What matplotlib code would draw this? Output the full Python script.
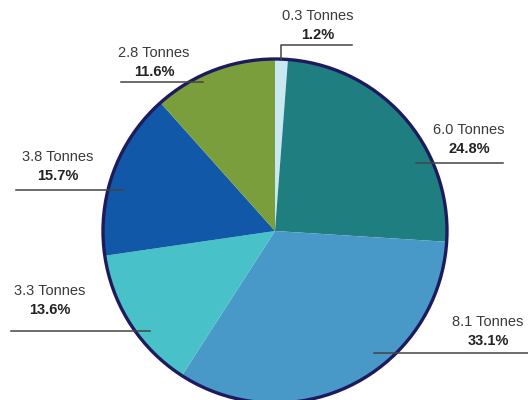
import matplotlib
matplotlib.use("Agg")
import matplotlib.pyplot as plt
from matplotlib.patches import Circle

plt.rcParams['font.family'] = ['Liberation Sans', 'DejaVu Sans']

# data, clockwise from the top
tonnes = [0.3, 6.0, 8.1, 3.3, 3.8, 2.8]
percent = [1.2, 24.8, 33.1, 13.6, 15.7, 11.6]
colors = ['#c9e8f2', '#1f7f80', '#4898c8', '#48c2c8', '#1158a8', '#7a9e3c']

# label text position (pixel coords, top-left origin) and leader line
label_xy = [(318, 16), (469, 130), (488, 322), (50, 291), (58, 157), (154, 53)]
leaders = [
    [(281, 60), (281, 45), (352, 45)],
    [(416, 163), (503, 163)],
    [(374, 353), (528, 353)],
    [(11, 331), (150, 331)],
    [(16, 190), (124, 190)],
    [(121, 82), (203, 82)],
]

W, H = 528, 400
fig = plt.figure(figsize=(W / 100, H / 100), dpi=100)
ax = fig.add_axes([0, 0, 1, 1])

cx, cy, r = 275, H - 231, 172
ax.pie(percent, colors=colors, startangle=90, counterclock=False,
       center=(cx, cy), radius=r, wedgeprops=dict(linewidth=0))
ax.add_patch(Circle((cx, cy), r, fill=False, edgecolor='#1e1a5e', linewidth=2.4, zorder=5))

for t, p, (x, y), pts in zip(tonnes, percent, label_xy, leaders):
    ax.text(x, H - y, f'{t:.1f} Tonnes', ha='center', va='center',
            fontsize=10.5, color='#3a3a3a')
    ax.text(x, H - y - 19, f'{p:.1f}%', ha='center', va='center',
            fontsize=10.5, fontweight='bold', color='#222222')
    xs = [q[0] for q in pts]
    ys = [H - q[1] for q in pts]
    ax.plot(xs, ys, color='#444444', linewidth=1.1, zorder=6)

ax.set_xlim(0, W)
ax.set_ylim(0, H)
ax.set_aspect('equal')
ax.axis('off')
fig.savefig('out.png', dpi=100)
